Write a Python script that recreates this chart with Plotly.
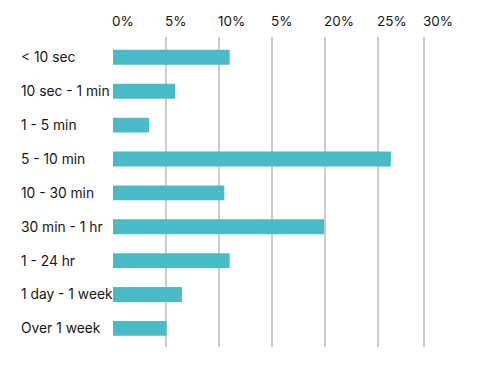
import plotly.graph_objects as go

categories = ["< 10 sec", "10 sec - 1 min", "1 - 5 min", "5 - 10 min", "10 - 30 min",
              "30 min - 1 hr", "1 - 24 hr", "1 day - 1 week", "Over 1 week"]
values = [11.0, 5.85, 3.4, 26.2, 10.5, 19.9, 11.0, 6.5, 5.05]
tick_vals = [0, 5, 10, 15, 20, 25, 29.3]
tick_text = ["0%", "5%", "10%", "5%", "20%", "25%", "30%"]

BAR = "#49BAC6"
GRID = "#CCCCCC"
FONT = "Inter, 'Open Sans', sans-serif"

fig = go.Figure(go.Bar(
    x=values, y=list(range(len(categories))), orientation="h",
    marker=dict(color=BAR, line=dict(width=0)), width=0.44,
    hoverinfo="x+text", hovertext=categories,
))

OFF = 8  # page body margin
L, R, T, B = 113 - OFF, 27, 37 - OFF, 18
W, H = 490 - OFF, 365 - OFF
pw = W - L - R

annotations = []
for v, t in zip(tick_vals, tick_text):
    annotations.append(dict(x=v, y=1, xref="x", yref="paper", text=t, showarrow=False,
                            xanchor="left", yanchor="middle", yshift=16, xshift=-3,
                            font=dict(family=FONT, size=13.5, color="#151515")))
for i, c in enumerate(categories):
    annotations.append(dict(x=(19 - 113) / pw, y=i, xref="paper", yref="y", text=c,
                            showarrow=False, xanchor="left", yanchor="middle",
                            font=dict(family=FONT, size=13.8, color="#151515")))

fig.update_layout(
    width=W, height=H, margin=dict(l=L, r=R, t=T, b=B),
    paper_bgcolor="white", plot_bgcolor="white",
    showlegend=False, annotations=annotations,
    xaxis=dict(range=[0, 33], tickvals=tick_vals, showticklabels=False,
               showgrid=True, gridcolor=GRID, gridwidth=1.6, zeroline=False,
               showline=False, ticks=""),
    yaxis=dict(range=[8.55, -0.6], showticklabels=False, showgrid=False,
               zeroline=False, showline=False, ticks=""),
)
fig.write_html("out.html")
